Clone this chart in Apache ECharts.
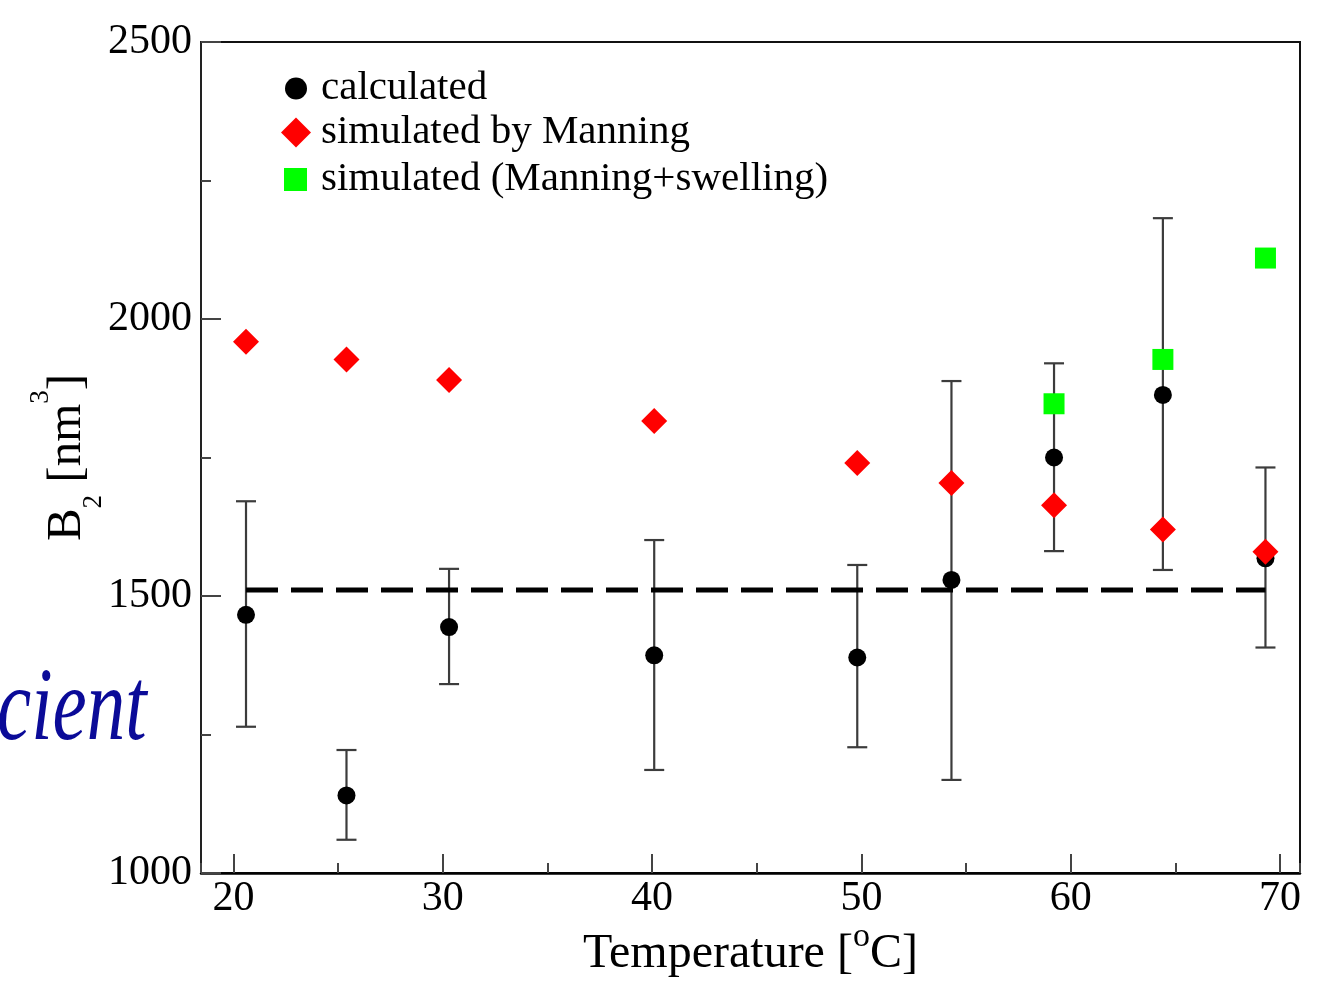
<!DOCTYPE html>
<html>
<head>
<meta charset="utf-8">
<script src="https://cdn.jsdelivr.net/npm/echarts@6/dist/echarts.min.js"></script>
<style>
html,body{margin:0;padding:0;background:#fff;}
#chart{width:1329px;height:988px;}
</style>
</head>
<body>
<div id="chart"></div>
<script>
// ---- data ----
const temps       = [20.6, 25.4, 30.3, 40.1, 49.8, 54.3, 59.2, 64.4, 69.3];
const calculated  = [1466, 1140, 1444, 1393, 1389, 1529, 1750, 1863, 1568];
const errLow      = [1264, 1060, 1341, 1186, 1227, 1168, 1581, 1547, 1407];
const errHigh     = [1671, 1222, 1549, 1601, 1556, 1888, 1920, 2182, 1732];
const manning     = [1959, 1927, 1890, 1816, 1740, 1704, 1664, 1620, 1580];
const swellTemps  = [59.2, 64.4, 69.3];
const swelling    = [1847, 1927, 2110];
const refLineX    = [20.6, 69.3];
const refLineY    = 1511;
const legendNames = ['calculated', 'simulated by Manning', 'simulated (Manning+swelling)'];
const xRange = [18.45, 70.95];
const yRange = [1000, 2500];

const FONT = '"Liberation Serif", "Times New Roman", serif';

const chart = echarts.init(document.getElementById('chart'), null, {renderer: 'canvas'});

const calcData = temps.map((t, i) => [t, calculated[i]]);
const errData  = temps.map((t, i) => [t, errLow[i], errHigh[i]]);
const manData  = temps.map((t, i) => [t, manning[i]]);
const swData   = swellTemps.map((t, i) => [t, swelling[i]]);
const refData  = refLineX.map(x => [x, refLineY]);

function legendFor(name, left, top, size, pad) {
  return {
    data: [name],
    orient: 'vertical',
    left: left, top: top,
    itemWidth: size, itemHeight: size,
    textStyle: {fontFamily: FONT, fontSize: 41, color: '#000', padding: [0, 0, 0, pad]},
    selectedMode: false
  };
}

const option = {
  backgroundColor: '#fff',
  animation: false,
  grid: {
    left: 201, right: 29, top: 42, bottom: 115,
    show: true, borderColor: '#111', borderWidth: 2, backgroundColor: 'transparent'
  },
  legend: [
    legendFor(legendNames[0], 280, 63, 22, 9),
    legendFor(legendNames[1], 276, 107, 30, 5),
    legendFor(legendNames[2], 279, 154, 23, 9)
  ],
  graphic: [{
    type: 'text',
    x: -3, y: 712,
    scaleX: 0.74,
    silent: true,
    style: {
      text: 'cient',
      font: 'italic 104px "Liberation Serif", serif',
      fill: '#0b0b98',
      textAlign: 'left',
      textVerticalAlign: 'middle'
    }
  }],
  xAxis: [{
    type: 'value',
    position: 'bottom',
    min: xRange[0], max: xRange[1],
    splitNumber: 5, minInterval: 10, maxInterval: 10,
    axisLine: {show: true, onZero: false, lineStyle: {color: '#000', width: 2.5}},
    axisTick: {show: true, inside: true, length: 19, lineStyle: {color: '#444', width: 2}},
    axisLabel: {show: true, showMinLabel: false, showMaxLabel: false, margin: 5,
      fontFamily: FONT, fontSize: 42, color: '#000', formatter: v => String(v)},
    splitLine: {show: false},
    name: '{a|Temperature [}{s|o}{a|C]}',
    nameLocation: 'middle',
    nameMoveOverlap: false,
    nameGap: 47,
    nameTextStyle: {
      rich: {
        a: {fontFamily: FONT, fontSize: 48, color: '#000'},
        s: {fontFamily: FONT, fontSize: 34, color: '#000', padding: [0, 0, 34, 0]}
      }
    }
  }, {
    type: 'value',
    position: 'bottom',
    min: xRange[0], max: xRange[1],
    splitNumber: 10, minInterval: 5, maxInterval: 5,
    axisLine: {show: false, onZero: false},
    axisTick: {show: true, inside: true, length: 10, lineStyle: {color: '#444', width: 2}},
    axisLabel: {show: false},
    splitLine: {show: false}
  }],
  yAxis: {
    type: 'value',
    min: yRange[0], max: yRange[1], interval: 500,
    axisLine: {show: true, onZero: false, lineStyle: {color: '#222', width: 2}},
    axisTick: {show: true, inside: true, length: 20, lineStyle: {color: '#444', width: 2}},
    minorTick: {show: true, splitNumber: 2, length: 10, lineStyle: {color: '#444', width: 2}},
    axisLabel: {margin: 9, fontFamily: FONT, fontSize: 42, color: '#000', formatter: v => String(v)},
    splitLine: {show: false},
    minorSplitLine: {show: false},
    name: '{a|B}{sub|2}{a| [nm}{sup|3}{a|]}',
    nameLocation: 'middle',
    nameRotate: 90,
    nameMoveOverlap: false,
    nameGap: 93,
    nameTextStyle: {
      rich: {
        a: {fontFamily: FONT, fontSize: 49, color: '#000'},
        sub: {fontFamily: FONT, fontSize: 27, color: '#000', padding: [52, 0, 0, 0]},
        sup: {fontFamily: FONT, fontSize: 27, color: '#000', padding: [0, 0, 54, 0]}
      }
    }
  },
  series: [
    {
      name: 'errorbars',
      type: 'custom',
      z: 2,
      silent: true,
      data: errData,
      renderItem: function (params, api) {
        const x = api.value(0);
        const pLo = api.coord([x, api.value(1)]);
        const pHi = api.coord([x, api.value(2)]);
        const hw = 10;
        const st = {stroke: '#3c3c3c', lineWidth: 2.2};
        return {
          type: 'group',
          children: [
            {type: 'line', shape: {x1: pLo[0], y1: pLo[1], x2: pHi[0], y2: pHi[1]}, style: st},
            {type: 'line', shape: {x1: pLo[0] - hw, y1: pLo[1], x2: pLo[0] + hw, y2: pLo[1]}, style: st},
            {type: 'line', shape: {x1: pHi[0] - hw, y1: pHi[1], x2: pHi[0] + hw, y2: pHi[1]}, style: st}
          ]
        };
      }
    },
    {
      name: 'reference',
      type: 'line',
      z: 3,
      silent: true,
      data: refData,
      symbol: 'none',
      lineStyle: {color: '#000', width: 5, type: [32, 13]}
    },
    {
      name: legendNames[0],
      type: 'scatter',
      z: 4,
      data: calcData,
      symbol: 'circle',
      symbolSize: 18,
      itemStyle: {color: '#000', opacity: 1}
    },
    {
      name: legendNames[1],
      type: 'scatter',
      z: 5,
      data: manData,
      symbol: 'diamond',
      symbolSize: 26,
      itemStyle: {color: '#ff0000', opacity: 1}
    },
    {
      name: legendNames[2],
      type: 'scatter',
      z: 6,
      data: swData,
      symbol: 'rect',
      symbolSize: 21,
      itemStyle: {color: '#00ff00', opacity: 1}
    }
  ]
};

chart.setOption(option);
</script>
</body>
</html>
